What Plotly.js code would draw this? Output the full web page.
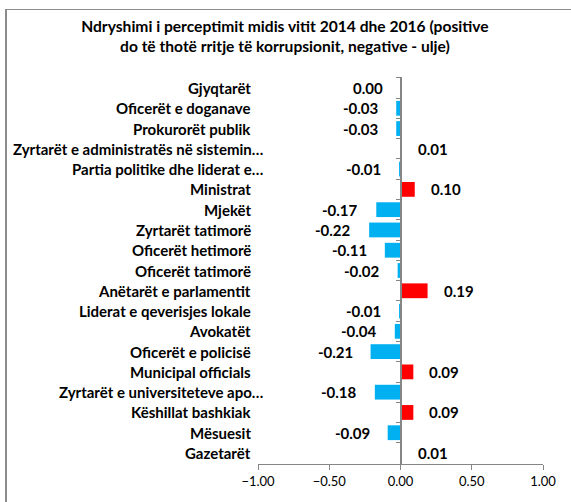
<!DOCTYPE html>
<html>
<head>
<meta charset="utf-8">
<script src="https://cdn.plot.ly/plotly-3.0.1.min.js"></script>
<style>
body{margin:0;padding:0;background:#fff;}
#wrap{position:relative;width:571px;height:502px;overflow:hidden;}
#chart{width:571px;height:502px;}
#frame{position:absolute;left:5px;top:9px;width:580px;height:520px;border-left:2px solid #8c8c8c;border-top:1px solid #8c8c8c;pointer-events:none;}
</style>
</head>
<body>
<div id="wrap"><div id="chart"></div><div id="frame"></div></div>
<script>
var categories = [
  "Gjyqtarët",
  "Oficerët e doganave",
  "Prokurorët publik",
  "Zyrtarët e administratës në sistemin…",
  "Partia politike dhe liderat e…",
  "Ministrat",
  "Mjekët",
  "Zyrtarët tatimorë",
  "Oficerët hetimorë",
  "Oficerët tatimorë",
  "Anëtarët e parlamentit",
  "Liderat e qeverisjes lokale",
  "Avokatët",
  "Oficerët e policisë",
  "Municipal officials",
  "Zyrtarët e universiteteve apo…",
  "Këshillat bashkiak",
  "Mësuesit",
  "Gazetarët"
];
var values = [0.00, -0.03, -0.03, 0.01, -0.01, 0.10, -0.17, -0.22, -0.11, -0.02, 0.19, -0.01, -0.04, -0.21, 0.09, -0.18, 0.09, -0.09, 0.01];
var xTicks = [-1, -0.5, 0, 0.5, 1];

var colors = values.map(function(v){ return v > 0 ? "#FF0000" : "#00B0F0"; });
var FONT = "Lato, 'Open Sans', sans-serif";

var annotations = values.map(function(v, i){
  return {
    x: v, y: categories[i], xref: "x", yref: "y",
    text: v.toFixed(2), showarrow: false,
    xanchor: v > 0 ? "left" : "right",
    xshift: v > 0 ? 14 : -16,
    font: {family: FONT, size: 15, color: "#000", weight: "bold"}
  };
});
categories.forEach(function(c){
  var trunc = c.charAt(c.length - 1) === "…";
  annotations.push({
    x: 0, y: c, xref: "paper", yref: "y",
    text: c, showarrow: false,
    xanchor: "right", xshift: trunc ? 7 : -5,
    font: {family: FONT, size: 15, color: "#000", weight: "bold"}
  });
});

var trace = {
  type: "bar", orientation: "h",
  x: values, y: categories,
  marker: {color: colors},
  hoverinfo: "x+y"
};

var layout = {
  width: 571, height: 502,
  margin: {l: 258, r: 28, t: 77, b: 38, pad: 0},
  paper_bgcolor: "#fff", plot_bgcolor: "#fff",
  showlegend: false,
  bargap: 0.27,
  title: {
    text: "<b>Ndryshimi i perceptimit midis vitit 2014 dhe 2016 (positive<br>do të thotë rritje të korrupsionit, negative - ulje)</b>",
    x: 0.499, xref: "container", xanchor: "center",
    y: 0.937, yref: "container", yanchor: "middle",
    font: {family: FONT, size: 15.6, color: "#000"}
  },
  xaxis: {
    range: [-1, 1], tickvals: xTicks, tickformat: ".2f",
    showgrid: false, zeroline: false,
    showline: true, linecolor: "#868686", linewidth: 1,
    ticks: "outside", ticklen: 5, tickcolor: "#868686", tickwidth: 1,
    tickfont: {family: FONT, size: 13, color: "#000"},
    fixedrange: true
  },
  yaxis: {
    type: "category", autorange: "reversed",
    anchor: "free", position: 0.5,
    showgrid: false, zeroline: false,
    showline: true, linecolor: "#868686", linewidth: 2,
    ticks: "outside", ticklen: 4, tickcolor: "#868686", tickwidth: 1,
    tickson: "boundaries",
    showticklabels: false,
    fixedrange: true
  },
  annotations: annotations
};

Plotly.newPlot("chart", [trace], layout, {displayModeBar: false, staticPlot: true});
</script>
</body>
</html>
